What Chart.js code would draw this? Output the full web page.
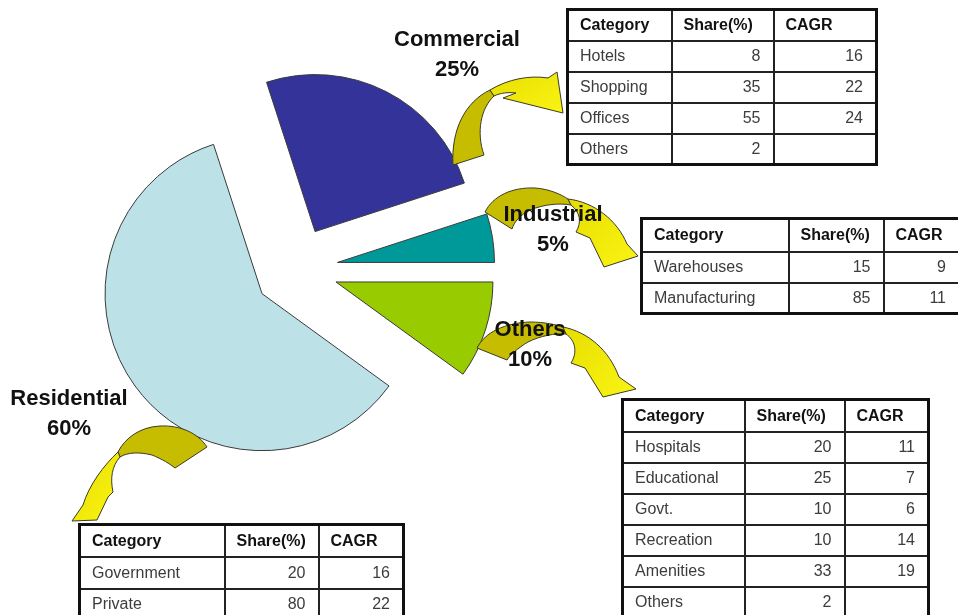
<!DOCTYPE html>
<html>
<head>
<meta charset="utf-8">
<script src="https://cdn.jsdelivr.net/npm/chart.js@4"></script>
<style>
  html, body { margin: 0; padding: 0; background: #fff; }
  body { width: 958px; height: 615px; position: relative; overflow: hidden; font-family: "Liberation Sans", Arial, sans-serif; }
  #pie-wrap { position: absolute; left: 56px; top: 29px; width: 480px; height: 480px; }
  #arrows { position: absolute; left: 0; top: 0; }
  .seg-label { position: absolute; width: 160px; margin-left: -80px; text-align: center; font-weight: bold; font-size: 22px; line-height: 30px; color: #111; }
  table.breakup { position: absolute; border-collapse: collapse; table-layout: fixed; border: 3px solid #111; font-size: 16px; color: #3c3c3c; background: #fff; }
  table.breakup td, table.breakup th { border: 2px solid #222; padding: 0 12px 0 11px; white-space: nowrap; overflow: hidden; }
  table.breakup th { text-align: left; font-weight: bold; color: #111; }
  table.breakup td.num { text-align: right; }
</style>
</head>
<body>
<div id="pie-wrap"><canvas id="pie"></canvas></div>

<svg id="arrows" width="958" height="615">
  <defs>
    <linearGradient id="yel" x1="0" y1="0" x2="1" y2="1">
      <stop offset="0" stop-color="#E6DE00"/>
      <stop offset="1" stop-color="#FAF414"/>
    </linearGradient>
  </defs>
  <g stroke="#3a3a2a" stroke-width="1" stroke-linejoin="round">
    <!-- Commercial -->
    <path fill="#C6BC00" d="M453,165 C451,130 465,102 490,90 L494,96 C481,108 476,132 484,155 Z"/>
    <path fill="url(#yel)" d="M490,90 C508,79 530,75 548,78 L557,72 L563,113 L503,98 L516,93 C508,92 500,93 494,96 Z"/>
    <!-- Industrial -->
    <path fill="#C6BC00" d="M485,212 C493,196 512,187 535,188 C550,189 562,195 568,199 L571,205 C560,203 545,204 530,210 C520,215 514,222 512,229 Z"/>
    <path fill="url(#yel)" d="M568,199 C594,202 617,220 627,244 L638,256 L604,267 L590,238 L576,232 C582,222 580,212 571,205 Z"/>
    <!-- Others -->
    <path fill="#C6BC00" d="M477,348 C485,332 505,323 530,322 C545,322 557,325 563,327 L566,334 C555,333 540,336 528,342 C518,348 510,355 507,360 Z"/>
    <path fill="url(#yel)" d="M563,327 C588,332 609,350 619,377 L636,389 L603,397 L585,368 L571,363 C578,352 575,340 566,334 Z"/>
    <!-- Residential -->
    <path fill="#C6BC00" d="M207,447 C198,433 180,425 160,426 C140,427 125,438 118,452 L120,457 C128,452 140,452 152,455 C162,459 170,464 175,468 Z"/>
    <path fill="url(#yel)" d="M118,452 C104,465 89,485 83,505 L72,521 L97,520 L108,497 L113,492 C110,478 112,466 120,457 Z"/>
  </g>
</svg>

<div id="labels"></div>
<div id="tables"></div>

<script>
// Segmentos del gráfico circular (orden horario desde Industrial)
const segmentLabels = ["Industrial", "Others", "Residential", "Commercial"];
const segmentShares = [5, 10, 60, 25];
const segmentColors = ["#009999", "#99CC00", "#BCE1E7", "#333399"];

// Tablas de desglose
const tableHeaders = ["Category", "Share(%)", "CAGR"];

const commercialCategories = ["Hotels", "Shopping", "Offices", "Others"];
const commercialShare = [8, 35, 55, 2];
const commercialCagr = [16, 22, 24, null];

const industrialCategories = ["Warehouses", "Manufacturing"];
const industrialShare = [15, 85];
const industrialCagr = [9, 11];

const othersCategories = ["Hospitals", "Educational", "Govt.", "Recreation", "Amenities", "Others"];
const othersShare = [20, 25, 10, 10, 33, 2];
const othersCagr = [11, 7, 6, 14, 19, null];

const residentialCategories = ["Government", "Private"];
const residentialShare = [20, 80];
const residentialCagr = [16, 22];

const EXPLODE = 42;

// Separar cada porción del centro a lo largo de su ángulo medio
const explodePlugin = {
    id: "explode",
    afterDatasetsUpdate(chart) {
        chart.getDatasetMeta(0).data.forEach((arc) => {
            const mid = (arc.startAngle + arc.endAngle) / 2;
            arc.x += Math.cos(mid) * EXPLODE;
            arc.y += Math.sin(mid) * EXPLODE;
        });
    },
};

new Chart(document.getElementById("pie"), {
    type: "pie",
    data: {
        labels: segmentLabels,
        datasets: [
            {
                data: segmentShares,
                backgroundColor: segmentColors,
                borderColor: "#3a3a3a",
                borderWidth: 1,
            },
        ],
    },
    options: {
        responsive: true,
        maintainAspectRatio: false,
        animation: false,
        events: [],
        rotation: 72,
        radius: 157,
        layout: { padding: 0 },
        plugins: {
            legend: { display: false },
            tooltip: { enabled: false },
        },
    },
    plugins: [explodePlugin],
});

// Etiquetas de segmento
const labelSpots = {
    Commercial: [457, 24],
    Industrial: [553, 199],
    Others: [530, 314],
    Residential: [69, 383],
};
const labelsDiv = document.getElementById("labels");
segmentLabels.forEach((name, i) => {
    const d = document.createElement("div");
    d.className = "seg-label";
    d.style.left = labelSpots[name][0] + "px";
    d.style.top = labelSpots[name][1] + "px";
    d.innerHTML = `${name}<br>${segmentShares[i]}%`;
    labelsDiv.appendChild(d);
});

function buildTable(categories, shares, cagrs, box) {
    const table = document.createElement("table");
    table.className = "breakup";
    table.style.left = box.left + "px";
    table.style.top = box.top + "px";
    const total = box.cols.reduce((a, b) => a + b, 0);
    table.style.width = total + "px";
    let html = "<colgroup>" + box.cols.map((w) => `<col style="width:${w}px">`).join("") + "</colgroup>";
    html += `<tr style="height:${box.head}px">` + tableHeaders.map((h) => `<th>${h}</th>`).join("") + "</tr>";
    categories.forEach((c, i) => {
        html += `<tr style="height:${box.row}px">
            <td>${c}</td>
            <td class="num">${shares[i]}</td>
            <td class="num">${cagrs[i] === null ? "" : cagrs[i]}</td>
        </tr>`;
    });
    table.innerHTML = html;
    document.getElementById("tables").appendChild(table);
}

buildTable(commercialCategories, commercialShare, commercialCagr, { left: 566, top: 8, cols: [104, 102, 103], head: 31, row: 31 });
buildTable(industrialCategories, industrialShare, industrialCagr, { left: 640, top: 217, cols: [147, 95, 76], head: 33, row: 31 });
buildTable(othersCategories, othersShare, othersCagr, { left: 621, top: 398, cols: [122, 100, 84], head: 32, row: 31 });
buildTable(residentialCategories, residentialShare, residentialCagr, { left: 78, top: 523, cols: [145, 94, 85], head: 32, row: 32 });
</script>
</body>
</html>
